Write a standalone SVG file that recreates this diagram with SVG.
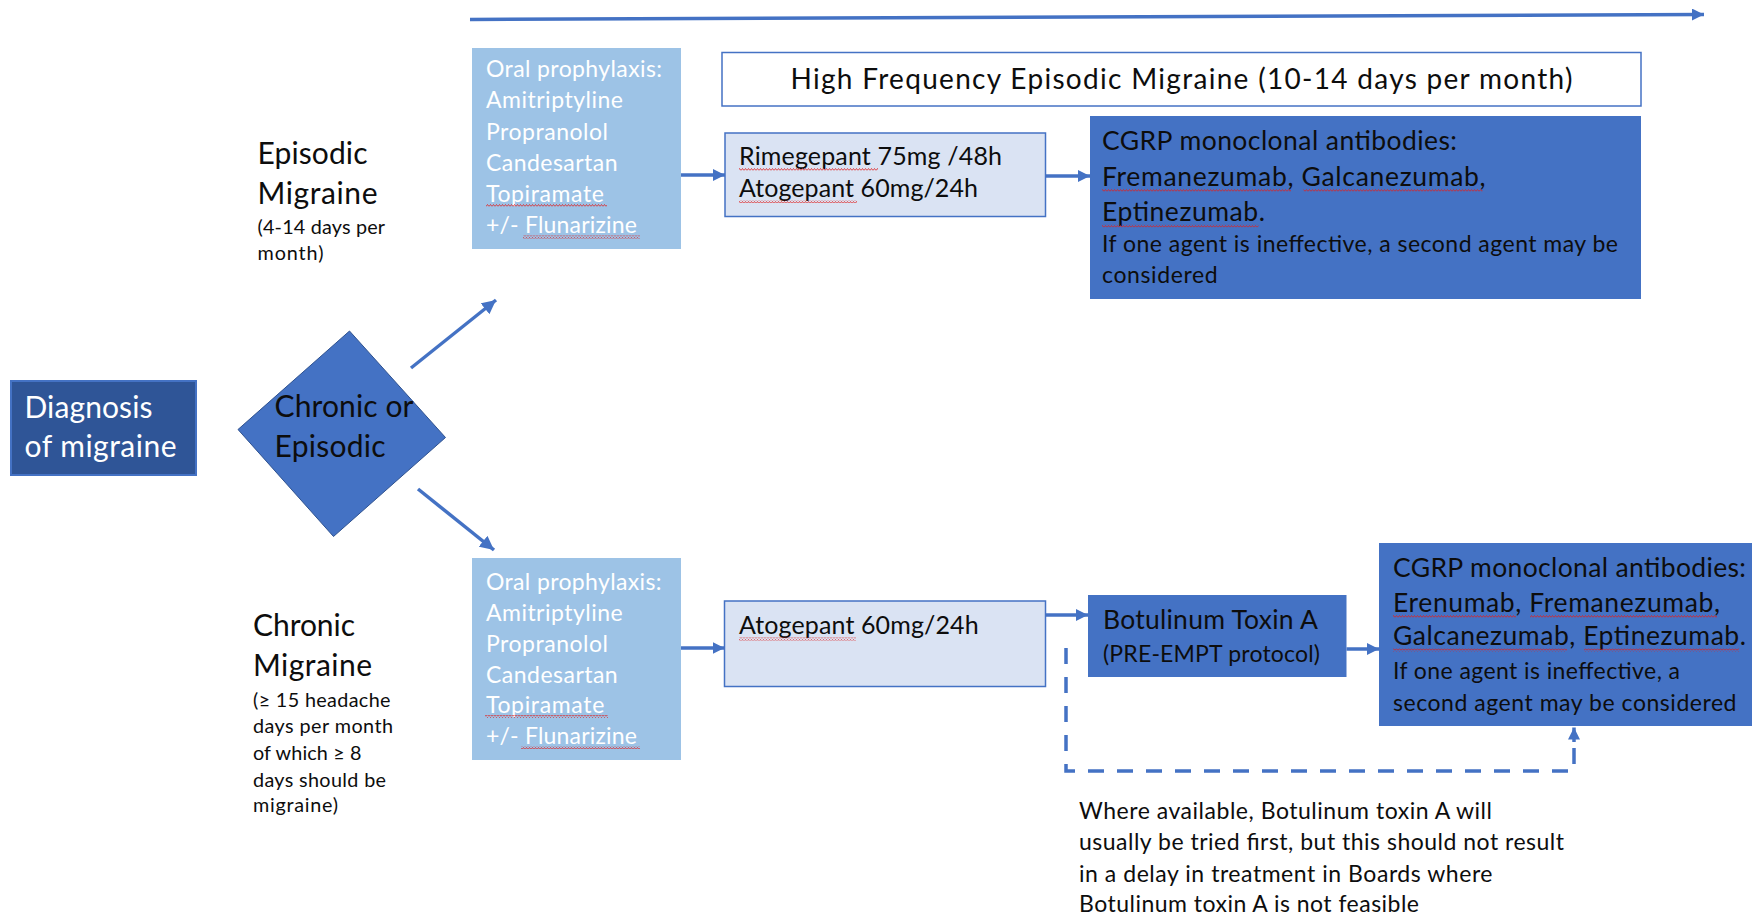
<svg xmlns="http://www.w3.org/2000/svg" width="1755" height="917" viewBox="0 0 1755 917">
<style>
text{font-family:"Lato","Liberation Sans",sans-serif;fill:#0d0d0d}
.w{fill:#ffffff}
.t30{font-size:30px}
.t28{font-size:28px}
.t26{font-size:26.5px}
.t25{font-size:25px}
.t23{font-size:23px}
.t20{font-size:19.8px}
.con{stroke:#4472C4;stroke-width:3.5;fill:none}
.dash{stroke-dasharray:16 13}
.sq{fill:url(#squig)}
</style>
<defs>
<marker id="ah" viewBox="0 0 10 10" refX="10" refY="5" markerWidth="12" markerHeight="12" markerUnits="userSpaceOnUse" orient="auto">
<path d="M0,0 L10,5 L0,10 z" fill="#4472C4"/>
</marker>
<marker id="ahb" viewBox="0 0 10 10" refX="10" refY="5" markerWidth="14" markerHeight="14" markerUnits="userSpaceOnUse" orient="auto">
<path d="M0,0 L10,5 L0,10 z" fill="#4472C4"/>
</marker>
<pattern id="squig" x="0" y="0" width="3" height="3" patternUnits="userSpaceOnUse">
<path d="M0,2.5 L1.5,0.5 L3,2.5" stroke="#e02020" stroke-width="0.8" fill="none"/>
</pattern>
</defs>

<g id="connectors">
<line class="con" x1="470" y1="19.5" x2="1704" y2="14.5" marker-end="url(#ah)"/>
<line class="con" x1="411" y1="368" x2="496" y2="300" marker-end="url(#ahb)"/>
<line class="con" x1="418" y1="489" x2="494" y2="550" marker-end="url(#ahb)"/>
<line class="con" x1="681" y1="175" x2="725" y2="175" marker-end="url(#ah)"/>
<line class="con" x1="1046" y1="176" x2="1090" y2="176" marker-end="url(#ah)"/>
<line class="con" x1="681" y1="648" x2="724.5" y2="648" marker-end="url(#ah)"/>
<line class="con" x1="1046" y1="615" x2="1088" y2="615" marker-end="url(#ah)"/>
<line class="con" x1="1346.5" y1="649" x2="1379" y2="649" marker-end="url(#ah)"/>
<path class="con dash" d="M1066,648 V771 H1574 V740"/>
<line class="con" x1="1574" y1="742" x2="1574" y2="727.5" marker-end="url(#ah)"/>
</g>

<g id="diagnosis">
<rect x="11" y="381" width="185" height="94" fill="#2F5597" stroke="#4472C4" stroke-width="2"/>
<text class="t30 w" x="24.5" y="418" textLength="128">Diagnosis</text>
<text class="t30 w" x="24.5" y="457" textLength="152">of migraine</text>
</g>

<g id="decision">
<polygon points="349.5,331 445.5,437.5 333.5,536.5 238,429.5" fill="#4472C4" stroke="#2F528F" stroke-width="1"/>
<text class="t30" x="274.5" y="417" textLength="139">Chronic or</text>
<text class="t30" x="274.5" y="457" textLength="111">Episodic</text>
</g>

<g id="episodic-label">
<text class="t30" x="257.5" y="164" textLength="110">Episodic</text>
<text class="t30" x="257.5" y="204" textLength="120">Migraine</text>
<text class="t20" x="257.5" y="234" textLength="127.5">(4-14 days per</text>
<text class="t20" x="257.5" y="260" textLength="66">month)</text>
</g>

<g id="chronic-label">
<text class="t30" x="253" y="636" textLength="102">Chronic</text>
<text class="t30" x="253" y="676" textLength="119">Migraine</text>
<text class="t20" x="253" y="707" textLength="137.5">(≥ 15 headache</text>
<text class="t20" x="253" y="733" textLength="140">days per month</text>
<text class="t20" x="253" y="759.5" textLength="108.5">of which ≥ 8</text>
<text class="t20" x="253" y="786.5" textLength="133">days should be</text>
<text class="t20" x="253" y="812" textLength="85">migraine)</text>
</g>

<g id="oral-episodic">
<rect x="472" y="48" width="209" height="201" fill="#9DC3E6"/>
<text class="t23 w" x="486" y="77" textLength="176">Oral prophylaxis:</text>
<text class="t23 w" x="486" y="108" textLength="137">Amitriptyline</text>
<text class="t23 w" x="486" y="139.5" textLength="122">Propranolol</text>
<text class="t23 w" x="486" y="170.5" textLength="131.5">Candesartan</text>
<text class="t23 w" x="486" y="201.5" textLength="118">Topiramate</text>
<text class="t23 w" x="486" y="232.5" textLength="151">+/- Flunarizine</text>
<rect class="sq" x="486" y="204" width="121" height="3"/>
<rect class="sq" x="523" y="235.5" width="117" height="3"/>
</g>

<g id="oral-chronic">
<rect x="472" y="558" width="209" height="202" fill="#9DC3E6"/>
<text class="t23 w" x="486" y="590" textLength="175.5">Oral prophylaxis:</text>
<text class="t23 w" x="486" y="620.5" textLength="136.6">Amitriptyline</text>
<text class="t23 w" x="486" y="651.5" textLength="122">Propranolol</text>
<text class="t23 w" x="486" y="682.5" textLength="131.7">Candesartan</text>
<text class="t23 w" x="486" y="713" textLength="118.3">Topiramate</text>
<text class="t23 w" x="486" y="743.5" textLength="151">+/- Flunarizine</text>
<rect class="sq" x="485" y="715" width="123" height="3"/>
<rect class="sq" x="521" y="746" width="119" height="3"/>
</g>

<g id="high-frequency">
<rect x="722" y="52.5" width="919" height="53.5" fill="#ffffff" stroke="#4472C4" stroke-width="1.5"/>
<text class="t28" x="1181.5" y="89" text-anchor="middle" textLength="782">High Frequency Episodic Migraine (10-14 days per month)</text>
</g>

<g id="gepants-episodic">
<rect x="725" y="133" width="320.5" height="83.5" fill="#DAE3F3" stroke="#4472C4" stroke-width="1.5"/>
<text class="t25" x="739" y="165" textLength="263">Rimegepant 75mg /48h</text>
<text class="t25" x="739" y="197" textLength="239">Atogepant 60mg/24h</text>
<rect class="sq" x="739" y="168" width="139" height="3"/>
<rect class="sq" x="739" y="200" width="118" height="3"/>
</g>

<g id="cgrp-episodic">
<rect x="1090" y="116" width="551" height="183" fill="#4472C4"/>
<text class="t26" x="1102" y="150" textLength="355">CGRP monoclonal antibodies:</text>
<text class="t26" x="1102" y="185.5" textLength="383.6">Fremanezumab, Galcanezumab,</text>
<text class="t26" x="1102" y="221" textLength="162.9">Eptinezumab.</text>
<text class="t23" x="1102" y="252" textLength="516">If one agent is ineffective, a second agent may be</text>
<text class="t23" x="1102" y="282.5" textLength="115.7">considered</text>
<rect class="sq" x="1102" y="189" width="189" height="3"/>
<rect class="sq" x="1303.5" y="189" width="179" height="3"/>
<rect class="sq" x="1102" y="224.5" width="156.5" height="3"/>
</g>

<g id="gepant-chronic">
<rect x="724.5" y="601" width="321" height="85.5" fill="#DAE3F3" stroke="#4472C4" stroke-width="1.5"/>
<text class="t25" x="739" y="634" textLength="239.7">Atogepant 60mg/24h</text>
<rect class="sq" x="739" y="637.5" width="117" height="3"/>
</g>

<g id="botulinum">
<rect x="1088" y="595" width="258.5" height="82" fill="#4472C4"/>
<text class="t26" x="1103" y="629" textLength="215">Botulinum Toxin A</text>
<text class="t23" x="1103" y="662" textLength="217">(PRE-EMPT protocol)</text>
</g>

<g id="cgrp-chronic">
<rect x="1379" y="543" width="373" height="183" fill="#4472C4"/>
<text class="t26" x="1393" y="577" textLength="353">CGRP monoclonal antibodies:</text>
<text class="t26" x="1393" y="611.5" textLength="327">Erenumab, Fremanezumab,</text>
<text class="t26" x="1393" y="645" textLength="353">Galcanezumab, Eptinezumab.</text>
<text class="t23" x="1393" y="679" textLength="287">If one agent is ineffective, a</text>
<text class="t23" x="1393" y="710.5" textLength="343.5">second agent may be considered</text>
<rect class="sq" x="1393" y="615" width="123" height="3"/>
<rect class="sq" x="1530" y="615" width="187" height="3"/>
<rect class="sq" x="1393" y="648.5" width="174" height="3"/>
<rect class="sq" x="1584" y="648.5" width="155" height="3"/>
</g>

<g id="note">
<text class="t23" x="1079" y="819" textLength="413">Where available, Botulinum toxin A will</text>
<text class="t23" x="1079" y="850" textLength="485">usually be tried first, but this should not result</text>
<text class="t23" x="1079" y="881.5" textLength="413.5">in a delay in treatment in Boards where</text>
<text class="t23" x="1079" y="911.5" textLength="340">Botulinum toxin A is not feasible</text>
</g>
</svg>
